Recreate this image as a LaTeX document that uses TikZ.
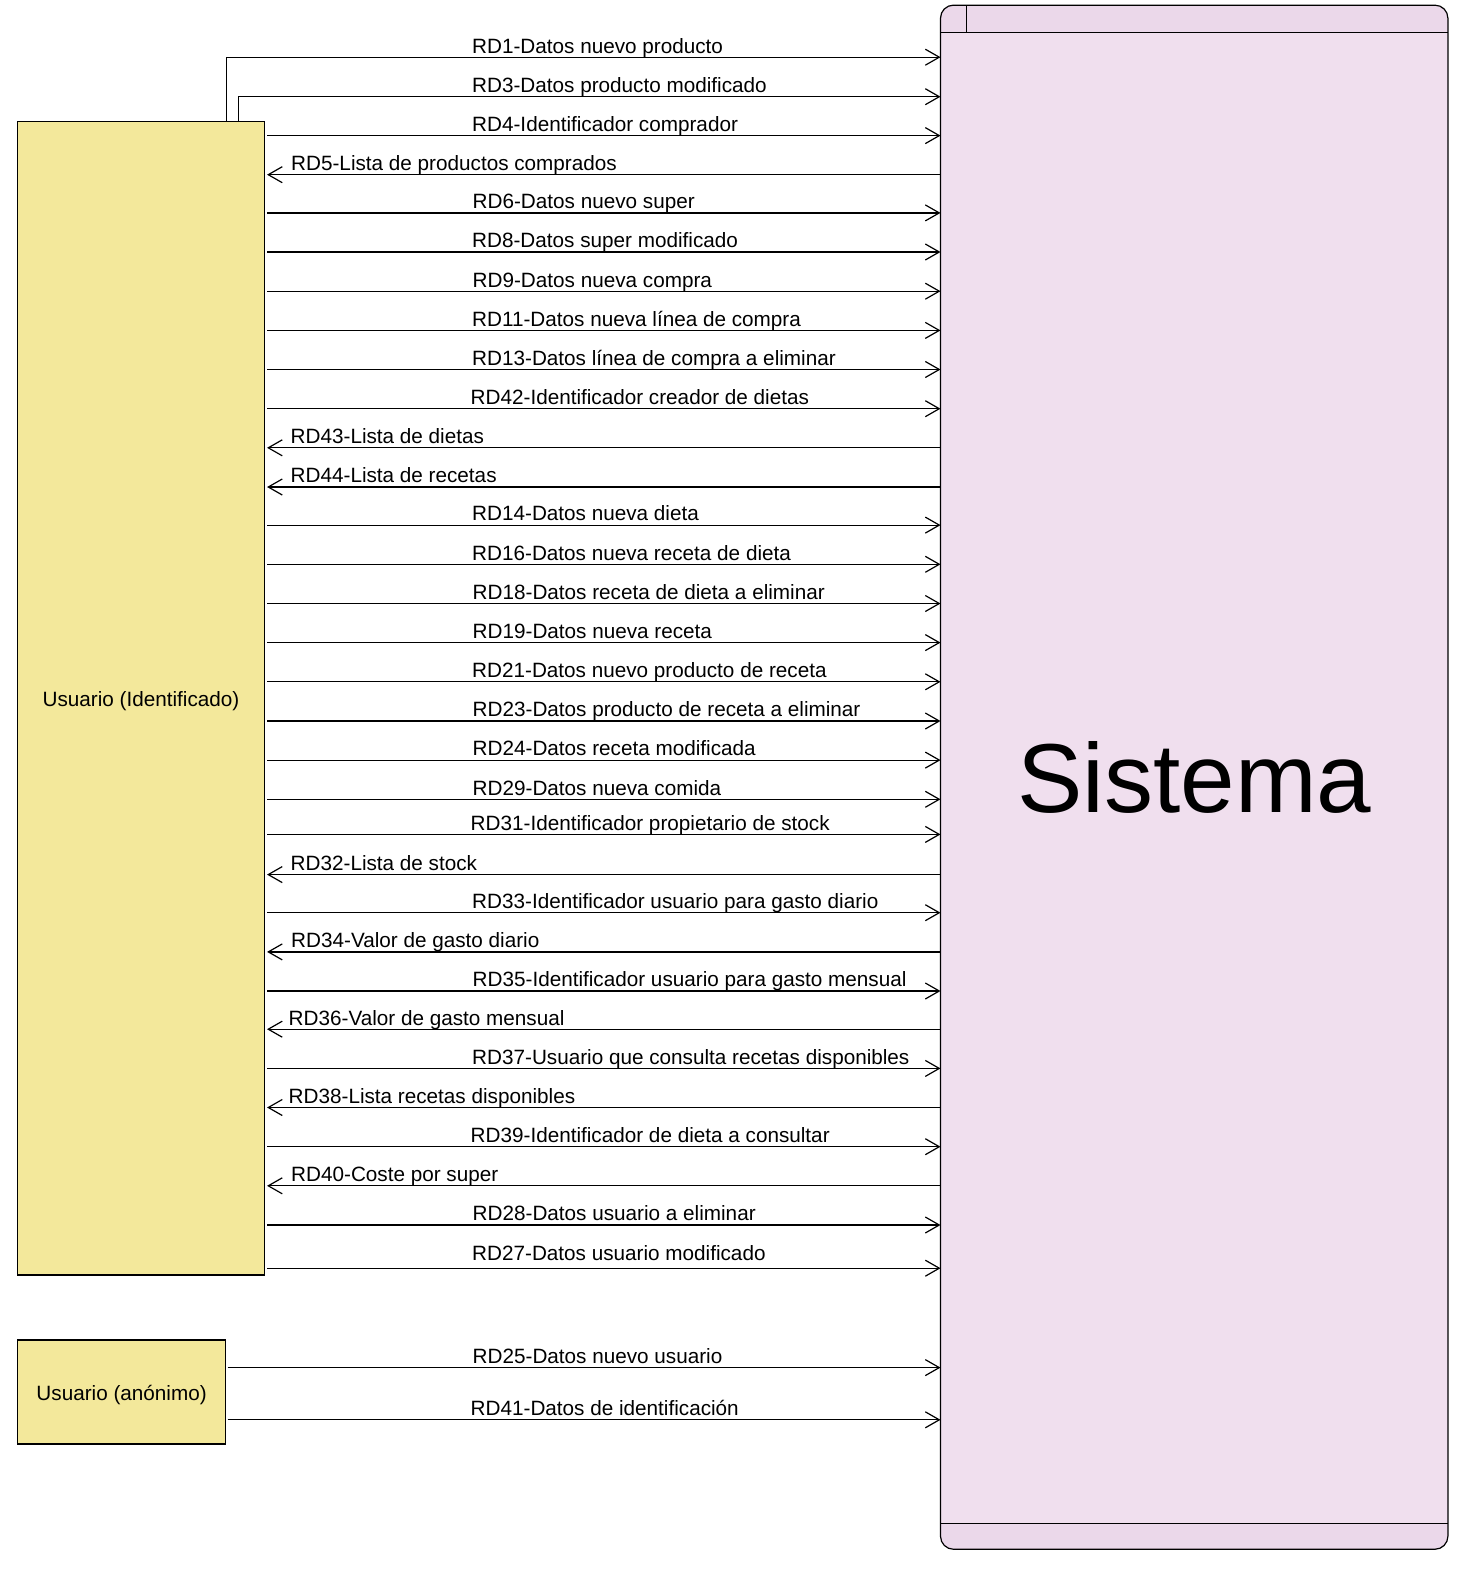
\documentclass[tikz,border=0pt]{standalone}
\usepackage{fontspec}
\setmainfont{Liberation Sans}
\usetikzlibrary{arrows.meta,positioning,calc}

\definecolor{actorfill}{RGB}{243,232,155}
\definecolor{sysfill}{RGB}{240,223,238}
\definecolor{syshead}{RGB}{235,216,234}

\begin{document}
\begin{tikzpicture}[
  x=1pt, y=-1pt,
  actor/.style={draw, fill=actorfill, line width=1.1pt, inner sep=0pt,
    text height=16.9pt, text depth=0pt,
    font=\fontsize{20.7}{24}\selectfont},
  flow/.style={line width=1.2pt, -{Straight Barb[length=14pt,width=16pt]}},
  flowlabel/.style={anchor=base west, inner sep=0pt, yshift=4.2pt,
    font=\fontsize{20.7}{24}\selectfont}
]
  \useasboundingbox (0,0) rectangle (1461,1574);

  % Actors
  \node[actor, minimum width=247pt, minimum height=1153.5pt] (user) at (141,698.25) {Usuario (Identificado)};
  \node[actor, minimum width=208pt, minimum height=104pt] (anon) at (121.6,1392) {Usuario (anónimo)};
  \coordinate (userR) at ([xshift=2pt]user.east);
  \coordinate (anonR) at ([xshift=1.5pt]anon.east);

  % System
  \node[minimum width=507pt, minimum height=1543.7pt, inner sep=0pt] (sys) at (1194.2,777.2) {};
  \begin{scope}
    \clip[rounded corners=13pt] (sys.north west) rectangle (sys.south east);
    \fill[sysfill] (sys.north west) rectangle (sys.south east);
    \fill[syshead] (sys.north west) rectangle ($(sys.north east)+(0,27)$);
    \fill[syshead] ($(sys.south west)+(0,-25.5)$) rectangle (sys.south east);
  \end{scope}
  \draw[line width=1.2pt, rounded corners=13pt] (sys.north west) rectangle (sys.south east);
  \draw[line width=1.2pt] ($(sys.north west)+(0,27)$) -- ($(sys.north east)+(0,27)$);
  \draw[line width=1.2pt] ($(sys.north west)+(25.6,0)$) -- ($(sys.north west)+(25.6,27)$);
  \draw[line width=1.2pt] ($(sys.south west)+(0,-25.5)$) -- ($(sys.south east)+(0,-25.5)$);
  \node[font=\fontsize{98}{110}\selectfont, inner sep=0pt] (systitle) at (sys.center) {Sistema};

  % Flows leaving from the top of the user box
  \draw[flow] ($(user.north west)+(209.2,0)$) |- (sys.west |- 0,57.2);
  \node[flowlabel] (lab1) at (472,57.2) {RD1-Datos nuevo producto};
  \draw[flow] ($(user.north west)+(221.8,0)$) |- (sys.west |- 0,96.7);
  \node[flowlabel] (lab3) at (472,96.7) {RD3-Datos producto modificado};

  % Flows into the system
  \foreach \y/\lx/\txt [count=\n] in {
      135.6/472/RD4-Identificador comprador,
      212.9/472.5/RD6-Datos nuevo super,
      252.0/472/RD8-Datos super modificado,
      291.2/472.5/RD9-Datos nueva compra,
      330.4/472/RD11-Datos nueva línea de compra,
      369.5/472/RD13-Datos línea de compra a eliminar,
      408.7/470.5/RD42-Identificador creador de dietas,
      525.1/472/RD14-Datos nueva dieta,
      564.3/472/RD16-Datos nueva receta de dieta,
      603.5/472.5/RD18-Datos receta de dieta a eliminar,
      642.6/472.5/RD19-Datos nueva receta,
      681.8/472/RD21-Datos nuevo producto de receta,
      721.0/472.5/RD23-Datos producto de receta a eliminar,
      760.1/472.5/RD24-Datos receta modificada,
      799.3/472.5/RD29-Datos nueva comida,
      834.4/470.5/RD31-Identificador propietario de stock,
      912.7/472/RD33-Identificador usuario para gasto diario,
      991.0/472.5/RD35-Identificador usuario para gasto mensual,
      1068.4/472/RD37-Usuario que consulta recetas disponibles,
      1146.7/470.5/RD39-Identificador de dieta a consultar,
      1225.0/472.5/RD28-Datos usuario a eliminar} {
    \draw[flow] (userR |- 0,\y) -- (sys.west |- 0,\y);
    \node[flowlabel] (in\n) at (\lx,\y) {\txt};
  }
  \draw[flow] (userR |- 0,1268.2) -- (sys.west |- 0,1268.2);
  \node[flowlabel, yshift=4pt] (lab27) at (472,1268.2) {RD27-Datos usuario modificado};

  % Flows back to the user
  \foreach \y/\lx/\txt [count=\n] in {
      174.7/291/RD5-Lista de productos comprados,
      447.8/290.5/RD43-Lista de dietas,
      487.0/290.5/RD44-Lista de recetas,
      874.6/290.5/RD32-Lista de stock,
      951.9/291/RD34-Valor de gasto diario,
      1029.2/288.5/RD36-Valor de gasto mensual,
      1107.5/288.5/RD38-Lista recetas disponibles,
      1185.8/291/RD40-Coste por super} {
    \draw[flow] (sys.west |- 0,\y) -- (userR |- 0,\y);
    \node[flowlabel] (out\n) at (\lx,\y) {\txt};
  }

  % Anonymous user
  \draw[flow] (anonR |- 0,1367.6) -- (sys.west |- 0,1367.6);
  \node[flowlabel] (lab25) at (472.5,1367.6) {RD25-Datos nuevo usuario};
  \draw[flow] (anonR |- 0,1419.8) -- (sys.west |- 0,1419.8);
  \node[flowlabel] (lab41) at (470.5,1419.8) {RD41-Datos de identificación};
\end{tikzpicture}
\end{document}
